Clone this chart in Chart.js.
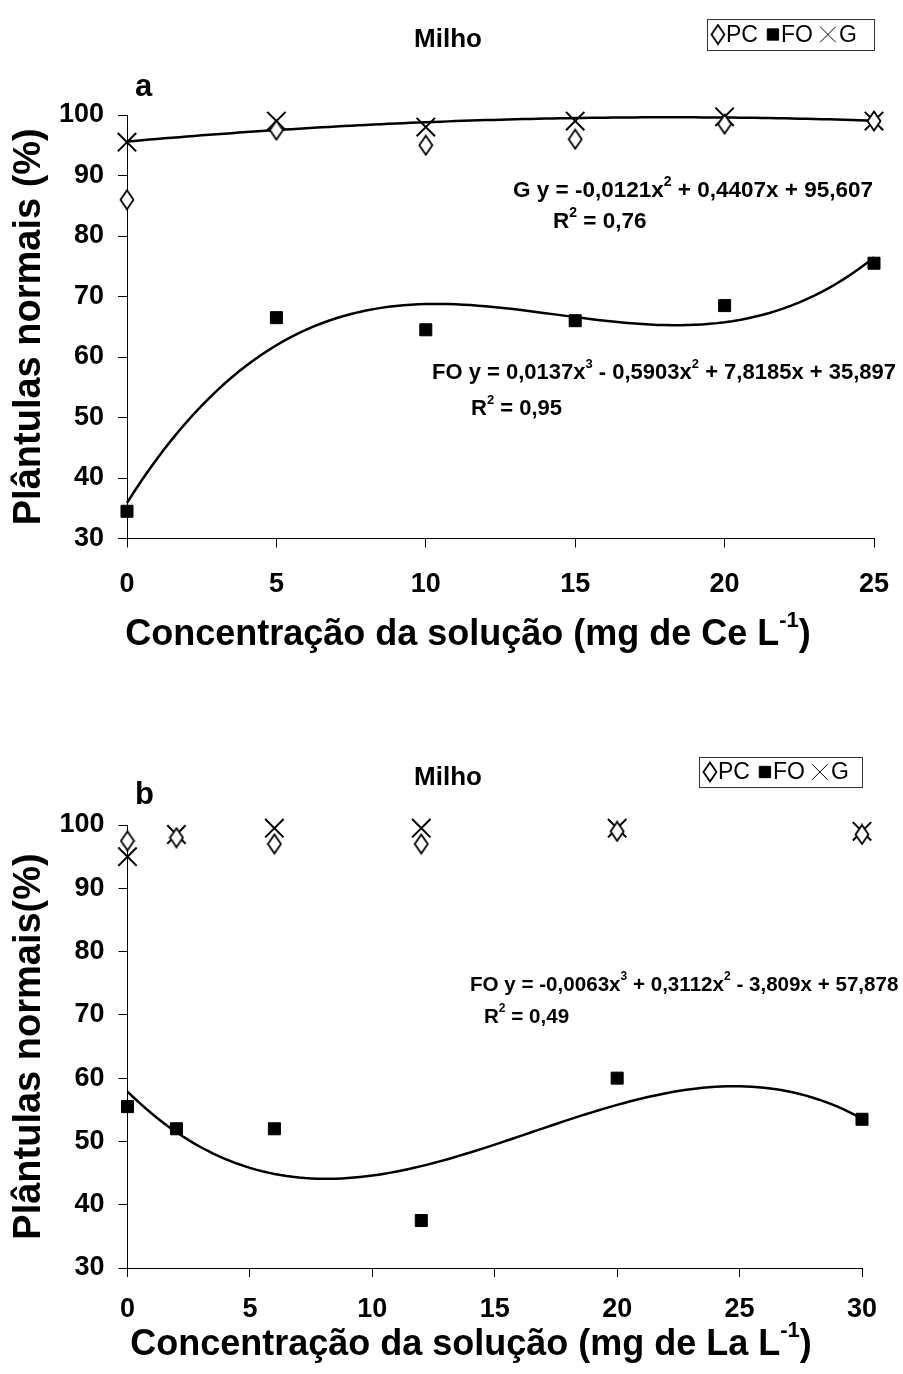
<!DOCTYPE html>
<html>
<head>
<meta charset="utf-8">
<script src="https://cdn.jsdelivr.net/npm/chart.js@4.4.1/dist/chart.umd.min.js"></script>
<style>
  body { margin: 0; background: #fff; width: 903px; height: 1374px; overflow: hidden; position: relative; }
  canvas { position: absolute; left: 0; }
</style>
</head>
<body>
<canvas id="graficoCe" width="903" height="680" style="top:0"></canvas>
<canvas id="graficoLa" width="903" height="694" style="top:680px"></canvas>
<script>
// Milho - cério
const concCe = [0, 5, 10, 15, 20, 25];
const pcCe = [86, 97.5, 95, 96, 98.5, 99];
const foCe = [34.5, 66.5, 64.5, 66, 68.5, 75.5];
const gCe = [95.5, 99, 98, 99, 99.7, 99];
// coeficientes das linhas de tendencia (c0 + c1 x + c2 x^2 + c3 x^3)
const gCeCoef = [95.607, 0.4407, -0.0121];
const foCeCoef = [35.897, 7.8185, -0.5903, 0.0137];

// Milho - lantânio
const concLa = [0, 2, 6, 12, 20, 30];
const pcLa = [97.5, 98, 97, 97, 99, 98.5];
const foLa = [55.5, 52, 52, 37.5, 60, 53.5];
const gLa = [95, 98.5, 99.5, 99.5, 99.5, 99];
const foLaCoef = [57.878, -3.809, 0.3112, -0.0063];

const yTicks = [30, 40, 50, 60, 70, 80, 90, 100];
const legendaNomes = ["PC", "FO", "G"];

const FONTE = "'Liberation Sans', Arial, sans-serif";

// losango aberto, mais alto que largo
const losango = document.createElement("canvas");
losango.width = 16; losango.height = 22;
(function () {
  const c = losango.getContext("2d");
  c.fillStyle = "#fff"; c.strokeStyle = "#000"; c.lineWidth = 1.8;
  c.beginPath();
  c.moveTo(8, 1.5); c.lineTo(14.5, 11); c.lineTo(8, 20.5); c.lineTo(1.5, 11); c.closePath();
  c.fill(); c.stroke();
})();

function curva(coef, xMax) {
  const pts = [];
  for (let i = 0; i <= xMax * 4; i++) {
    const x = i / 4;
    let y = 0;
    coef.forEach(function (c, k) { y += c * Math.pow(x, k); });
    pts.push({ x: x, y: y });
  }
  return pts;
}

function pares(xs, ys) {
  return xs.map(function (x, i) { return { x: x, y: ys[i] }; });
}

// texto com expoentes marcados por ^n
function textoRico(ctx, txt, x, y, size, align) {
  const partes = txt.split(/\^(-?\d+)/);
  const fBase = "bold " + size + "px " + FONTE;
  const fSup = "bold " + Math.round(size * 0.6) + "px " + FONTE;
  let larg = 0;
  partes.forEach(function (p, i) {
    ctx.font = i % 2 ? fSup : fBase;
    larg += ctx.measureText(p).width;
  });
  let cx = align === "center" ? x - larg / 2 : x;
  ctx.textBaseline = "middle";
  ctx.textAlign = "left";
  partes.forEach(function (p, i) {
    ctx.font = i % 2 ? fSup : fBase;
    ctx.fillText(p, cx, i % 2 ? y - size * 0.38 : y);
    cx += ctx.measureText(p).width;
  });
}

// tamanho do simbolo e afastamento do texto na legenda
const marcaLegenda = { PC: [8, 8], FO: [8, 8], G: [11, 11] };

const extras = {
  id: "extras",
  afterDraw(chart, args, o) {
    const ctx = chart.ctx;
    ctx.save();
    ctx.fillStyle = "#000";
    ctx.textBaseline = "middle";

    ctx.font = "bold 26px " + FONTE;
    ctx.textAlign = "center";
    ctx.fillText("Milho", o.titulo[0], o.titulo[1]);

    ctx.font = "bold 31px " + FONTE;
    ctx.textAlign = "left";
    ctx.fillText(o.letra, o.letraPos[0], o.letraPos[1]);

    textoRico(ctx, o.eixoX, o.eixoXPos[0], o.eixoXPos[1], 36, "center");
    o.equacoes.forEach(function (e) { textoRico(ctx, e[0], e[1], e[2], e[3], "left"); });

    // legenda com moldura
    const L = o.legenda;
    ctx.strokeStyle = "#333";
    ctx.lineWidth = 1;
    ctx.strokeRect(L.x + 0.5, L.y + 0.5, L.w, L.h);
    ctx.font = "23px " + FONTE;
    const cy = L.y + L.h / 2;
    let px = L.x + 11;
    chart.data.datasets.slice(0, 3).forEach(function (ds) {
      const m = marcaLegenda[ds.label];
      Chart.helpers.drawPoint(ctx, { pointStyle: ds.pointStyle, radius: m[0], borderWidth: ds.borderWidth }, px, cy);
      ctx.fillStyle = "#000";
      ctx.strokeStyle = "#000";
      ctx.fillText(ds.label, px + m[1], cy + 1);
      px += m[1] + ctx.measureText(ds.label).width + 15;
    });
    ctx.restore();
  }
};

function semFolga(s) {
  s.paddingLeft = 0; s.paddingRight = 0; s.paddingTop = 0; s.paddingBottom = 0;
}

function montar(id, c) {
  const area = c.area;
  const cv = document.getElementById(id);
  return new Chart(cv, {
    type: "scatter",
    data: {
      datasets: [
        { label: legendaNomes[0], data: pares(c.conc, c.pc), pointStyle: losango, pointRadius: 8,
          backgroundColor: "#fff", borderColor: "#000", borderWidth: 1.5, clip: false },
        { label: legendaNomes[1], data: pares(c.conc, c.fo), pointStyle: "rect", pointRadius: 8.5,
          backgroundColor: "#000", borderColor: "#000", borderWidth: 1, clip: false },
        { label: legendaNomes[2], data: pares(c.conc, c.g), pointStyle: "crossRot", pointRadius: 13,
          backgroundColor: "#000", borderColor: "#000", borderWidth: 2, clip: false }
      ].concat(c.tendencias.map(function (coef) {
        return { data: curva(coef, c.xMax), showLine: true, pointRadius: 0, borderColor: "#000",
          borderWidth: 2.5, tension: 0, clip: false };
      }))
    },
    options: {
      responsive: false,
      animation: false,
      events: [],
      layout: { padding: { left: 0, right: cv.width - area.right, top: area.top, bottom: 0 } },
      plugins: {
        legend: { display: false },
        tooltip: { enabled: false },
        extras: c.extras
      },
      scales: {
        x: {
          type: "linear", min: 0, max: c.xMax,
          ticks: { stepSize: 5, color: "#000", padding: c.xPad, font: { family: FONTE, size: 27, weight: "bold" } },
          grid: { drawOnChartArea: false, drawTicks: true, tickLength: 9, color: "#000" },
          border: { color: "#000", width: 1 },
          afterFit(s) { s.height = cv.height - area.bottom; semFolga(s); }
        },
        y: {
          min: 30, max: 100,
          afterBuildTicks(s) { s.ticks = yTicks.map(function (v) { return { value: v }; }); },
          ticks: { color: "#000", padding: 14, font: { family: FONTE, size: 27, weight: "bold" } },
          grid: { drawOnChartArea: false, drawTicks: true, tickLength: 9, color: "#000" },
          border: { color: "#000", width: 1 },
          title: { display: true, text: c.tituloY, color: "#000", padding: { top: 7, bottom: 0 },
            font: { family: FONTE, size: 38, weight: "bold" } },
          afterFit(s) { s.width = area.left; semFolga(s); }
        }
      }
    },
    plugins: [extras]
  });
}

montar("graficoCe", {
  conc: concCe, pc: pcCe, fo: foCe, g: gCe, xMax: 25, xPad: 21,
  tendencias: [gCeCoef, foCeCoef],
  tituloY: "Plântulas normais (%)",
  area: { left: 127, top: 115, right: 874, bottom: 538.5 },
  extras: {
    titulo: [448, 40], letra: "a", letraPos: [135, 87],
    eixoX: "Concentração da solução (mg de Ce L^-1)", eixoXPos: [468, 635],
    equacoes: [
      ["G y = -0,0121x^2 + 0,4407x + 95,607", 513, 191, 22.5],
      ["R^2 = 0,76", 553, 222, 22.5],
      ["FO y = 0,0137x^3 - 0,5903x^2 + 7,8185x + 35,897", 432, 373, 22],
      ["R^2 = 0,95", 471, 409, 22]
    ],
    legenda: { x: 707, y: 19, w: 167, h: 31 }
  }
});

montar("graficoLa", {
  conc: concLa, pc: pcLa, fo: foLa, g: gLa, xMax: 30, xPad: 16,
  tendencias: [foLaCoef],
  tituloY: "Plântulas normais(%)",
  area: { left: 127.5, top: 145, right: 862, bottom: 588 },
  extras: {
    titulo: [448, 98], letra: "b", letraPos: [135, 115],
    eixoX: "Concentração da solução (mg de La L^-1)", eixoXPos: [471, 665],
    equacoes: [
      ["FO y = -0,0063x^3 + 0,3112x^2 - 3,809x + 57,878", 470, 305, 20.6],
      ["R^2 = 0,49", 484, 337, 20.6]
    ],
    legenda: { x: 699, y: 77, w: 163, h: 30 }
  }
});
</script>
</body>
</html>
